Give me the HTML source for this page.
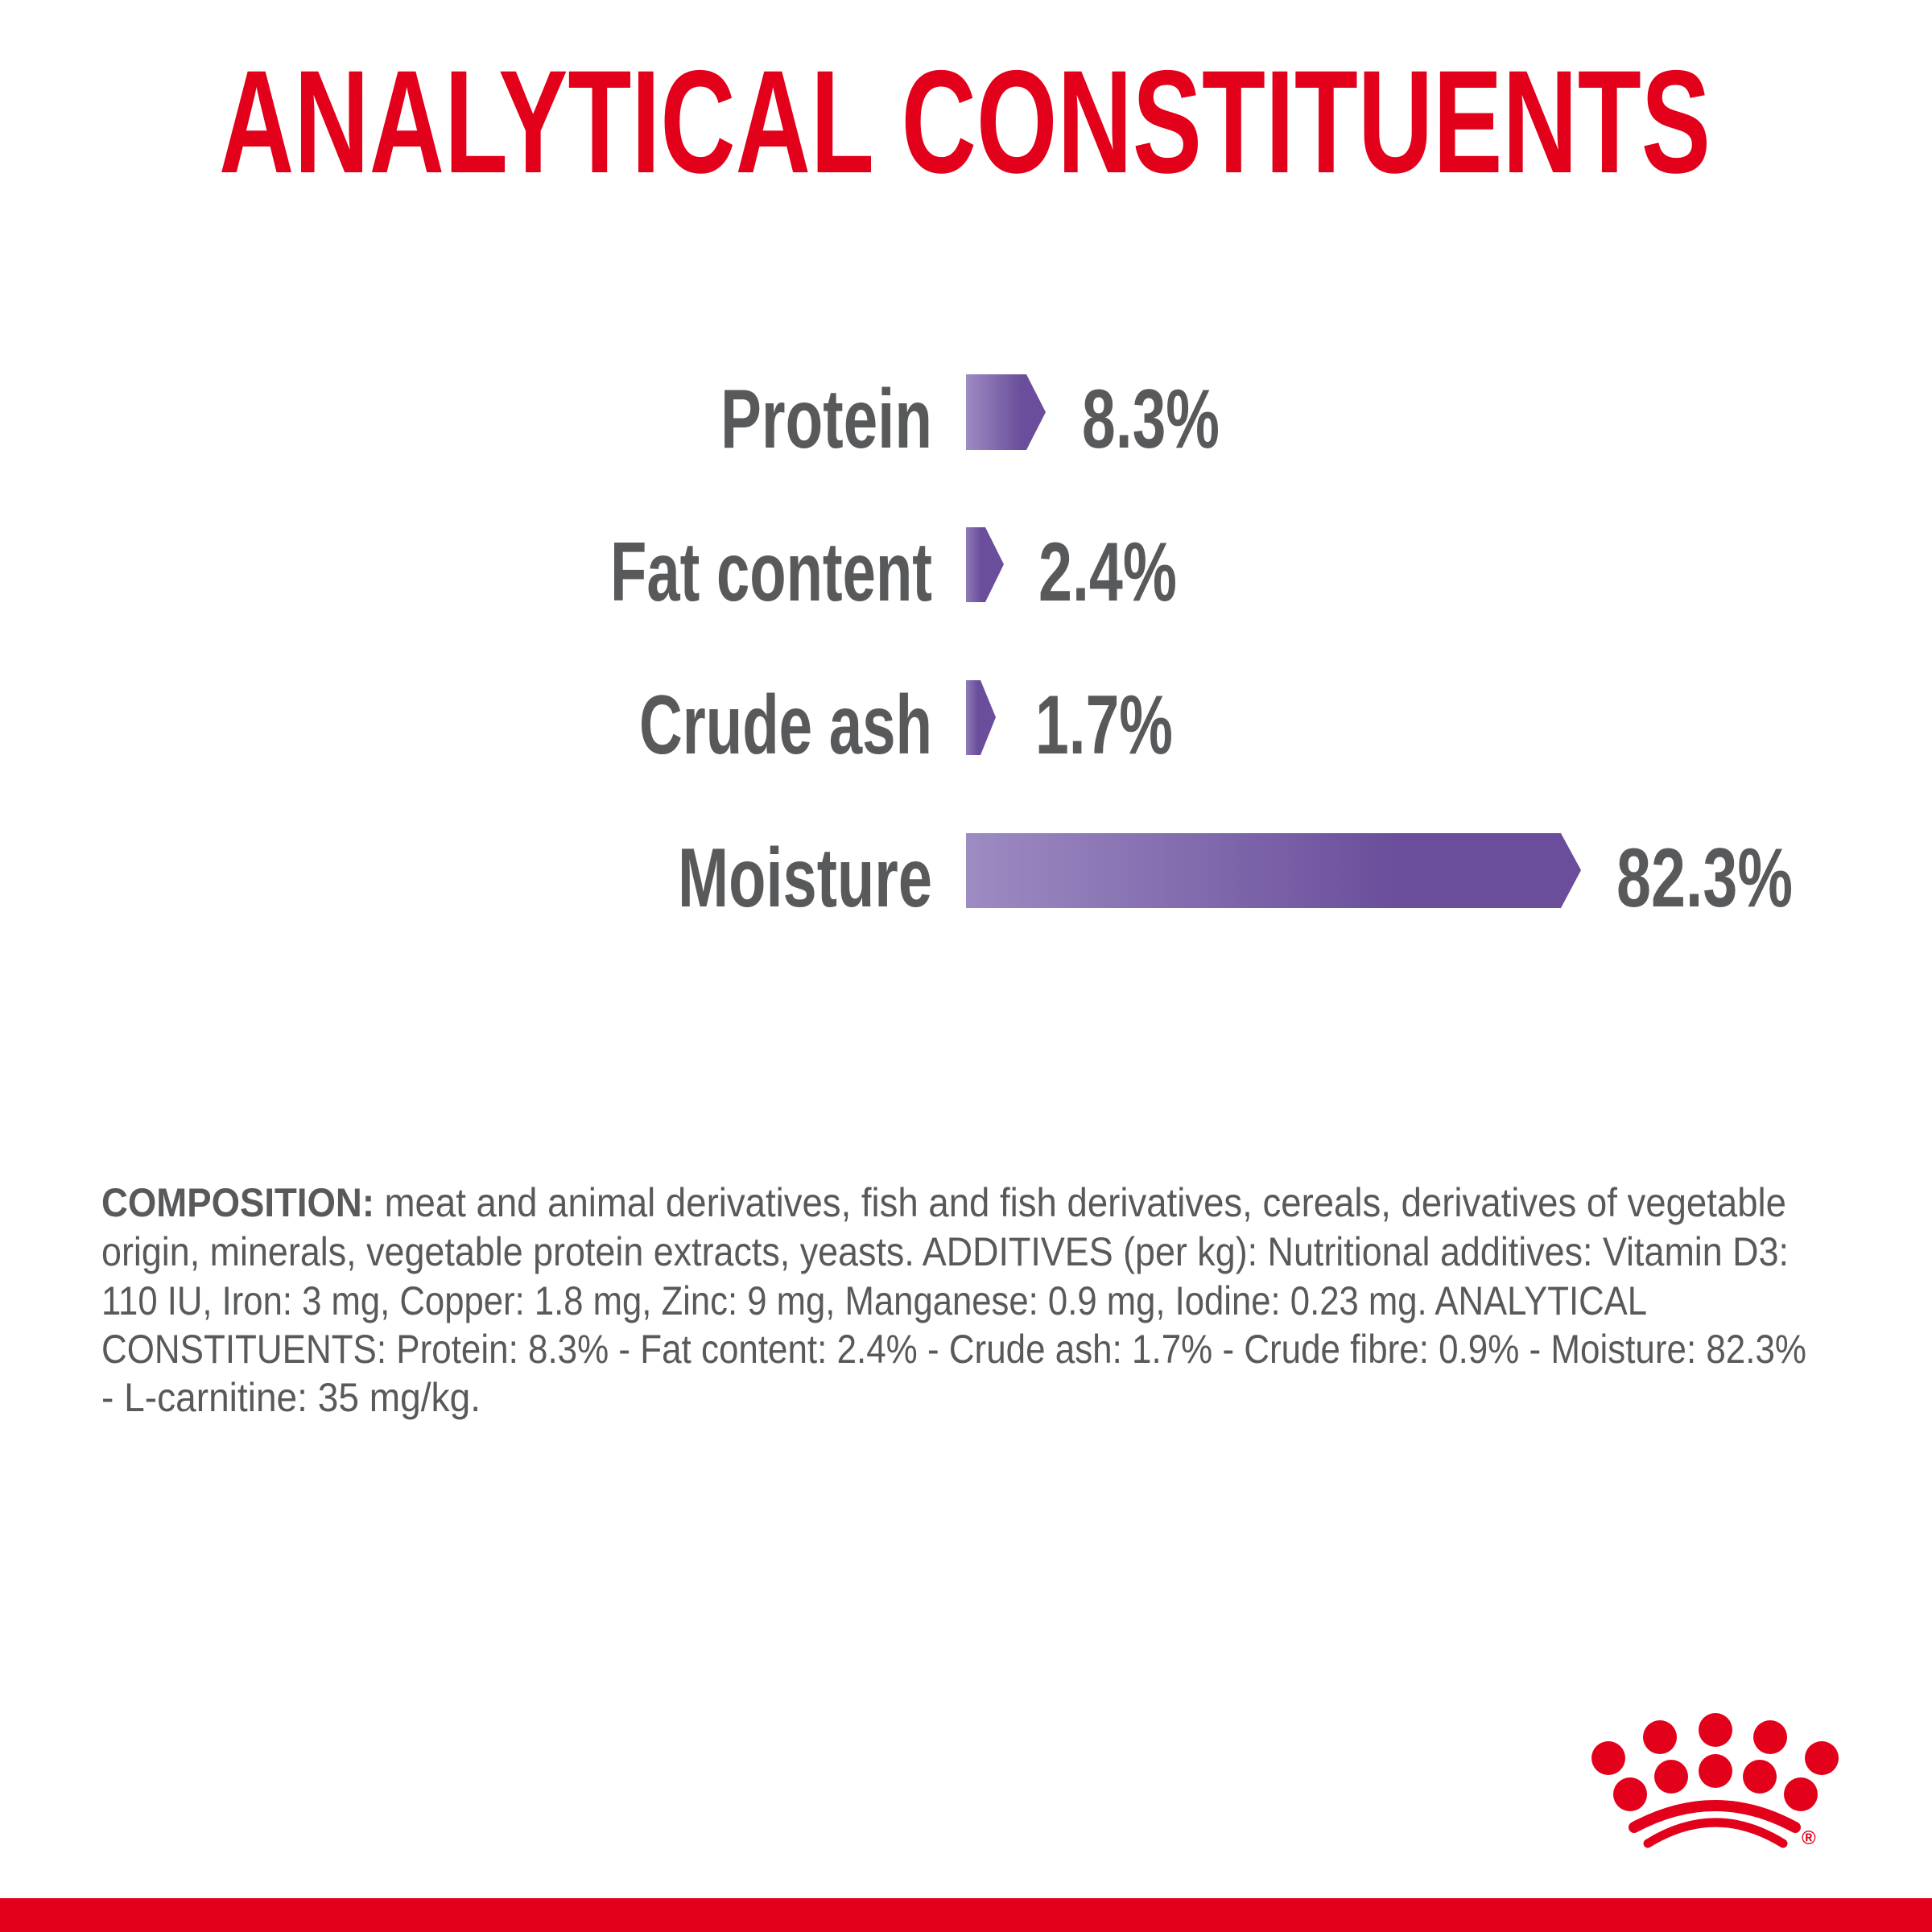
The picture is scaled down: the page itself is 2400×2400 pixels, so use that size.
<!DOCTYPE html>
<html><head><meta charset="utf-8"><style>
html,body{margin:0;padding:0;background:#fff;width:2400px;height:2400px;overflow:hidden}
svg{display:block}
</style></head><body>
<svg width="2400" height="2400" viewBox="0 0 2400 2400" xmlns="http://www.w3.org/2000/svg">
<defs>
<linearGradient id="g" x1="0" y1="0" x2="1" y2="0">
<stop offset="0" stop-color="#9d8bc2"/><stop offset="0.7" stop-color="#6a4e9b"/><stop offset="1" stop-color="#6a4e9b"/>
</linearGradient>
<linearGradient id="g2" x1="0" y1="0" x2="1" y2="0">
<stop offset="0" stop-color="#8f7bb8"/><stop offset="0.4" stop-color="#6a4e9b"/><stop offset="1" stop-color="#6a4e9b"/>
</linearGradient>
</defs>
<rect width="2400" height="2400" fill="#fff"/>
<text x="272" y="214" font-family="Liberation Sans" font-weight="bold" font-size="182" fill="#e2001a" textLength="1853" lengthAdjust="spacingAndGlyphs">ANALYTICAL CONSTITUENTS</text>

<g font-family="Liberation Sans" font-weight="bold" font-size="104" fill="#58595b">
<text x="895" y="556" textLength="263" lengthAdjust="spacingAndGlyphs">Protein</text>
<text x="758" y="746" textLength="400" lengthAdjust="spacingAndGlyphs">Fat content</text>
<text x="794" y="936" textLength="364" lengthAdjust="spacingAndGlyphs">Crude ash</text>
<text x="842" y="1126" textLength="316" lengthAdjust="spacingAndGlyphs">Moisture</text>
<text x="1344" y="556" textLength="171" lengthAdjust="spacingAndGlyphs">8.3%</text>
<text x="1290" y="746" textLength="172" lengthAdjust="spacingAndGlyphs">2.4%</text>
<text x="1286" y="936" textLength="171" lengthAdjust="spacingAndGlyphs">1.7%</text>
<text x="2008" y="1126" textLength="219" lengthAdjust="spacingAndGlyphs">82.3%</text>
</g>
<polygon points="1200,465 1275,465 1299,512 1275,559 1200,559" fill="url(#g)"/>
<polygon points="1200,655 1224,655 1247,701 1224,748 1200,748" fill="url(#g2)"/>
<polygon points="1200,845 1218,845 1237,891 1218,938 1200,938" fill="url(#g2)"/>
<polygon points="1200,1035 1939,1035 1964,1081 1939,1128 1200,1128" fill="url(#g)"/>

<g font-family="Liberation Sans" font-size="50" fill="#58595b">
<text x="126" y="1511" textLength="2093" lengthAdjust="spacingAndGlyphs"><tspan font-weight="bold">COMPOSITION:</tspan> meat and animal derivatives, fish and fish derivatives, cereals, derivatives of vegetable</text>
<text x="126" y="1572" textLength="2096" lengthAdjust="spacingAndGlyphs">origin, minerals, vegetable protein extracts, yeasts. ADDITIVES (per kg): Nutritional additives: Vitamin D3:</text>
<text x="126" y="1633" textLength="1920" lengthAdjust="spacingAndGlyphs">110 IU, Iron: 3 mg, Copper: 1.8 mg, Zinc: 9 mg, Manganese: 0.9 mg, Iodine: 0.23 mg. ANALYTICAL</text>
<text x="126" y="1693" textLength="2118" lengthAdjust="spacingAndGlyphs">CONSTITUENTS: Protein: 8.3% - Fat content: 2.4% - Crude ash: 1.7% - Crude fibre: 0.9% - Moisture: 82.3%</text>
<text x="126" y="1753" textLength="471" lengthAdjust="spacingAndGlyphs">- L-carnitine: 35 mg/kg.</text>
</g>

<g fill="#e2001a">
<circle cx="1998" cy="2184" r="21"/><circle cx="2062" cy="2158" r="21"/><circle cx="2131" cy="2149" r="21"/>
<circle cx="2199" cy="2158" r="21"/><circle cx="2263" cy="2184" r="21"/><circle cx="2025" cy="2229" r="21"/>
<circle cx="2076" cy="2207" r="21"/><circle cx="2131" cy="2200" r="21"/><circle cx="2186" cy="2207" r="21"/>
<circle cx="2237" cy="2229" r="21"/>
<text x="2238" y="2291" font-family="Liberation Sans" font-weight="bold" font-size="24">®</text>
</g>
<path d="M2030,2270 Q2131,2216 2230,2270" stroke="#e2001a" stroke-width="14" fill="none" stroke-linecap="round"/>
<path d="M2047,2290 Q2131,2238 2215,2290" stroke="#e2001a" stroke-width="11" fill="none" stroke-linecap="round"/>
<rect x="0" y="2358" width="2400" height="42" fill="#e2001a"/>
</svg>
</body></html>
